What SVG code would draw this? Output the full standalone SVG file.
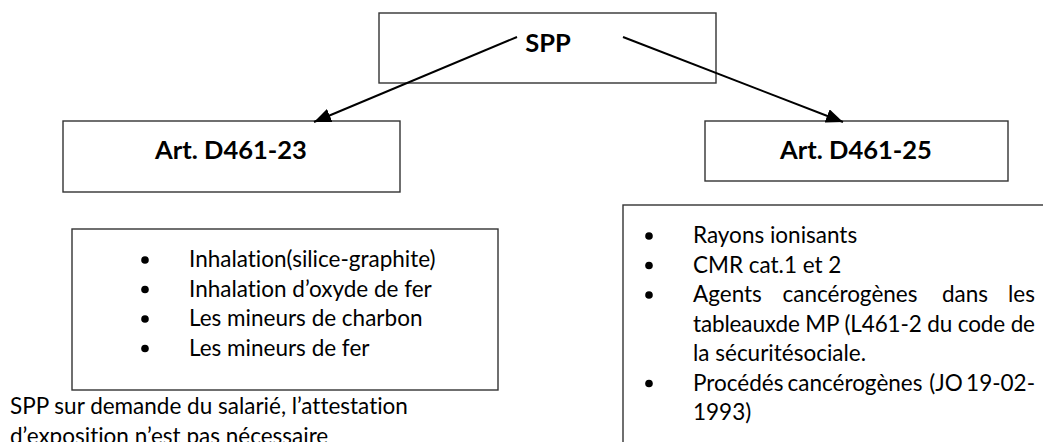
<svg xmlns="http://www.w3.org/2000/svg" width="1043" height="442" viewBox="0 0 1043 442">
<style>
.box{fill:#fff;stroke:#333;stroke-width:1.4}
.t{font-family:Lato,"Liberation Sans",sans-serif;font-size:22.5px;fill:#000;font-variant-ligatures:none;font-feature-settings:"liga" 0}
.b{font-family:Lato,"Liberation Sans",sans-serif;font-size:25.5px;font-weight:bold;fill:#000}
.con{stroke:#000;stroke-width:2;fill:none}
</style>
<defs>
<marker id="ah" markerUnits="userSpaceOnUse" markerWidth="18" markerHeight="14" refX="17" refY="7" orient="auto">
<path d="M0,0 L17,7 L0,14 z" fill="#000"/>
</marker>
</defs>
<rect width="1043" height="442" fill="#fff"/>
<g id="spp">
<rect class="box" x="379" y="13" width="337" height="70"/>
<text class="b" x="548" y="52" text-anchor="middle">SPP</text>
</g>
<g id="art23">
<rect class="box" x="63" y="121" width="337" height="71"/>
<text class="b" x="231" y="159" text-anchor="middle">Art. D461-23</text>
</g>
<g id="art25">
<rect class="box" x="705" y="121" width="303" height="60"/>
<text class="b" x="856" y="159" text-anchor="middle">Art. D461-25</text>
</g>
<g id="list23">
<rect class="box" x="72" y="229" width="426" height="161"/>
<circle cx="145" cy="260" r="3.8"/>
<circle cx="145" cy="289.5" r="3.8"/>
<circle cx="145" cy="319" r="3.8"/>
<circle cx="145" cy="348.5" r="3.8"/>
<text class="t" x="189" y="267">Inhalation(silice-graphite)</text>
<text class="t" x="189" y="296.5">Inhalation d’oxyde de fer</text>
<text class="t" x="189" y="326">Les mineurs de charbon</text>
<text class="t" x="189" y="355.5">Les mineurs de fer</text>
</g>
<g id="note">
<text class="t" x="10" y="414">SPP sur demande du salarié, l’attestation</text>
<text class="t" x="10" y="443.5">d’exposition n’est pas nécessaire</text>
</g>
<g id="list25">
<rect class="box" x="623" y="205" width="425" height="250"/>
<circle cx="649" cy="236" r="3.8"/>
<circle cx="649" cy="265.5" r="3.8"/>
<circle cx="649" cy="295" r="3.8"/>
<circle cx="649" cy="383.5" r="3.8"/>
<text class="t" x="693" y="243">Rayons ionisants</text>
<text class="t" x="693" y="272.5">CMR cat.1 et 2</text>
<text class="t" x="693" y="302">Agents</text>
<text class="t" x="850" y="302" text-anchor="middle">cancérogènes</text>
<text class="t" x="965" y="302" text-anchor="middle">dans</text>
<text class="t" x="1035" y="302" text-anchor="end">les</text>
<text class="t" x="693" y="331.5" textLength="342" lengthAdjust="spacing">tableauxde MP (L461-2 du code de</text>
<text class="t" x="693" y="361">la sécuritésociale.</text>
<text class="t" x="693" y="390.5">Procédés</text>
<text class="t" x="855" y="390.5" text-anchor="middle">cancérogènes</text>
<text class="t" x="946" y="390.5" text-anchor="middle">(JO</text>
<text class="t" x="1035" y="390.5" text-anchor="end">19-02-</text>
<text class="t" x="693" y="420">1993)</text>
</g>
<g id="connectors">
<line class="con" x1="517" y1="37" x2="314" y2="122" marker-end="url(#ah)"/>
<line class="con" x1="623" y1="37" x2="843" y2="122" marker-end="url(#ah)"/>
</g>
</svg>
